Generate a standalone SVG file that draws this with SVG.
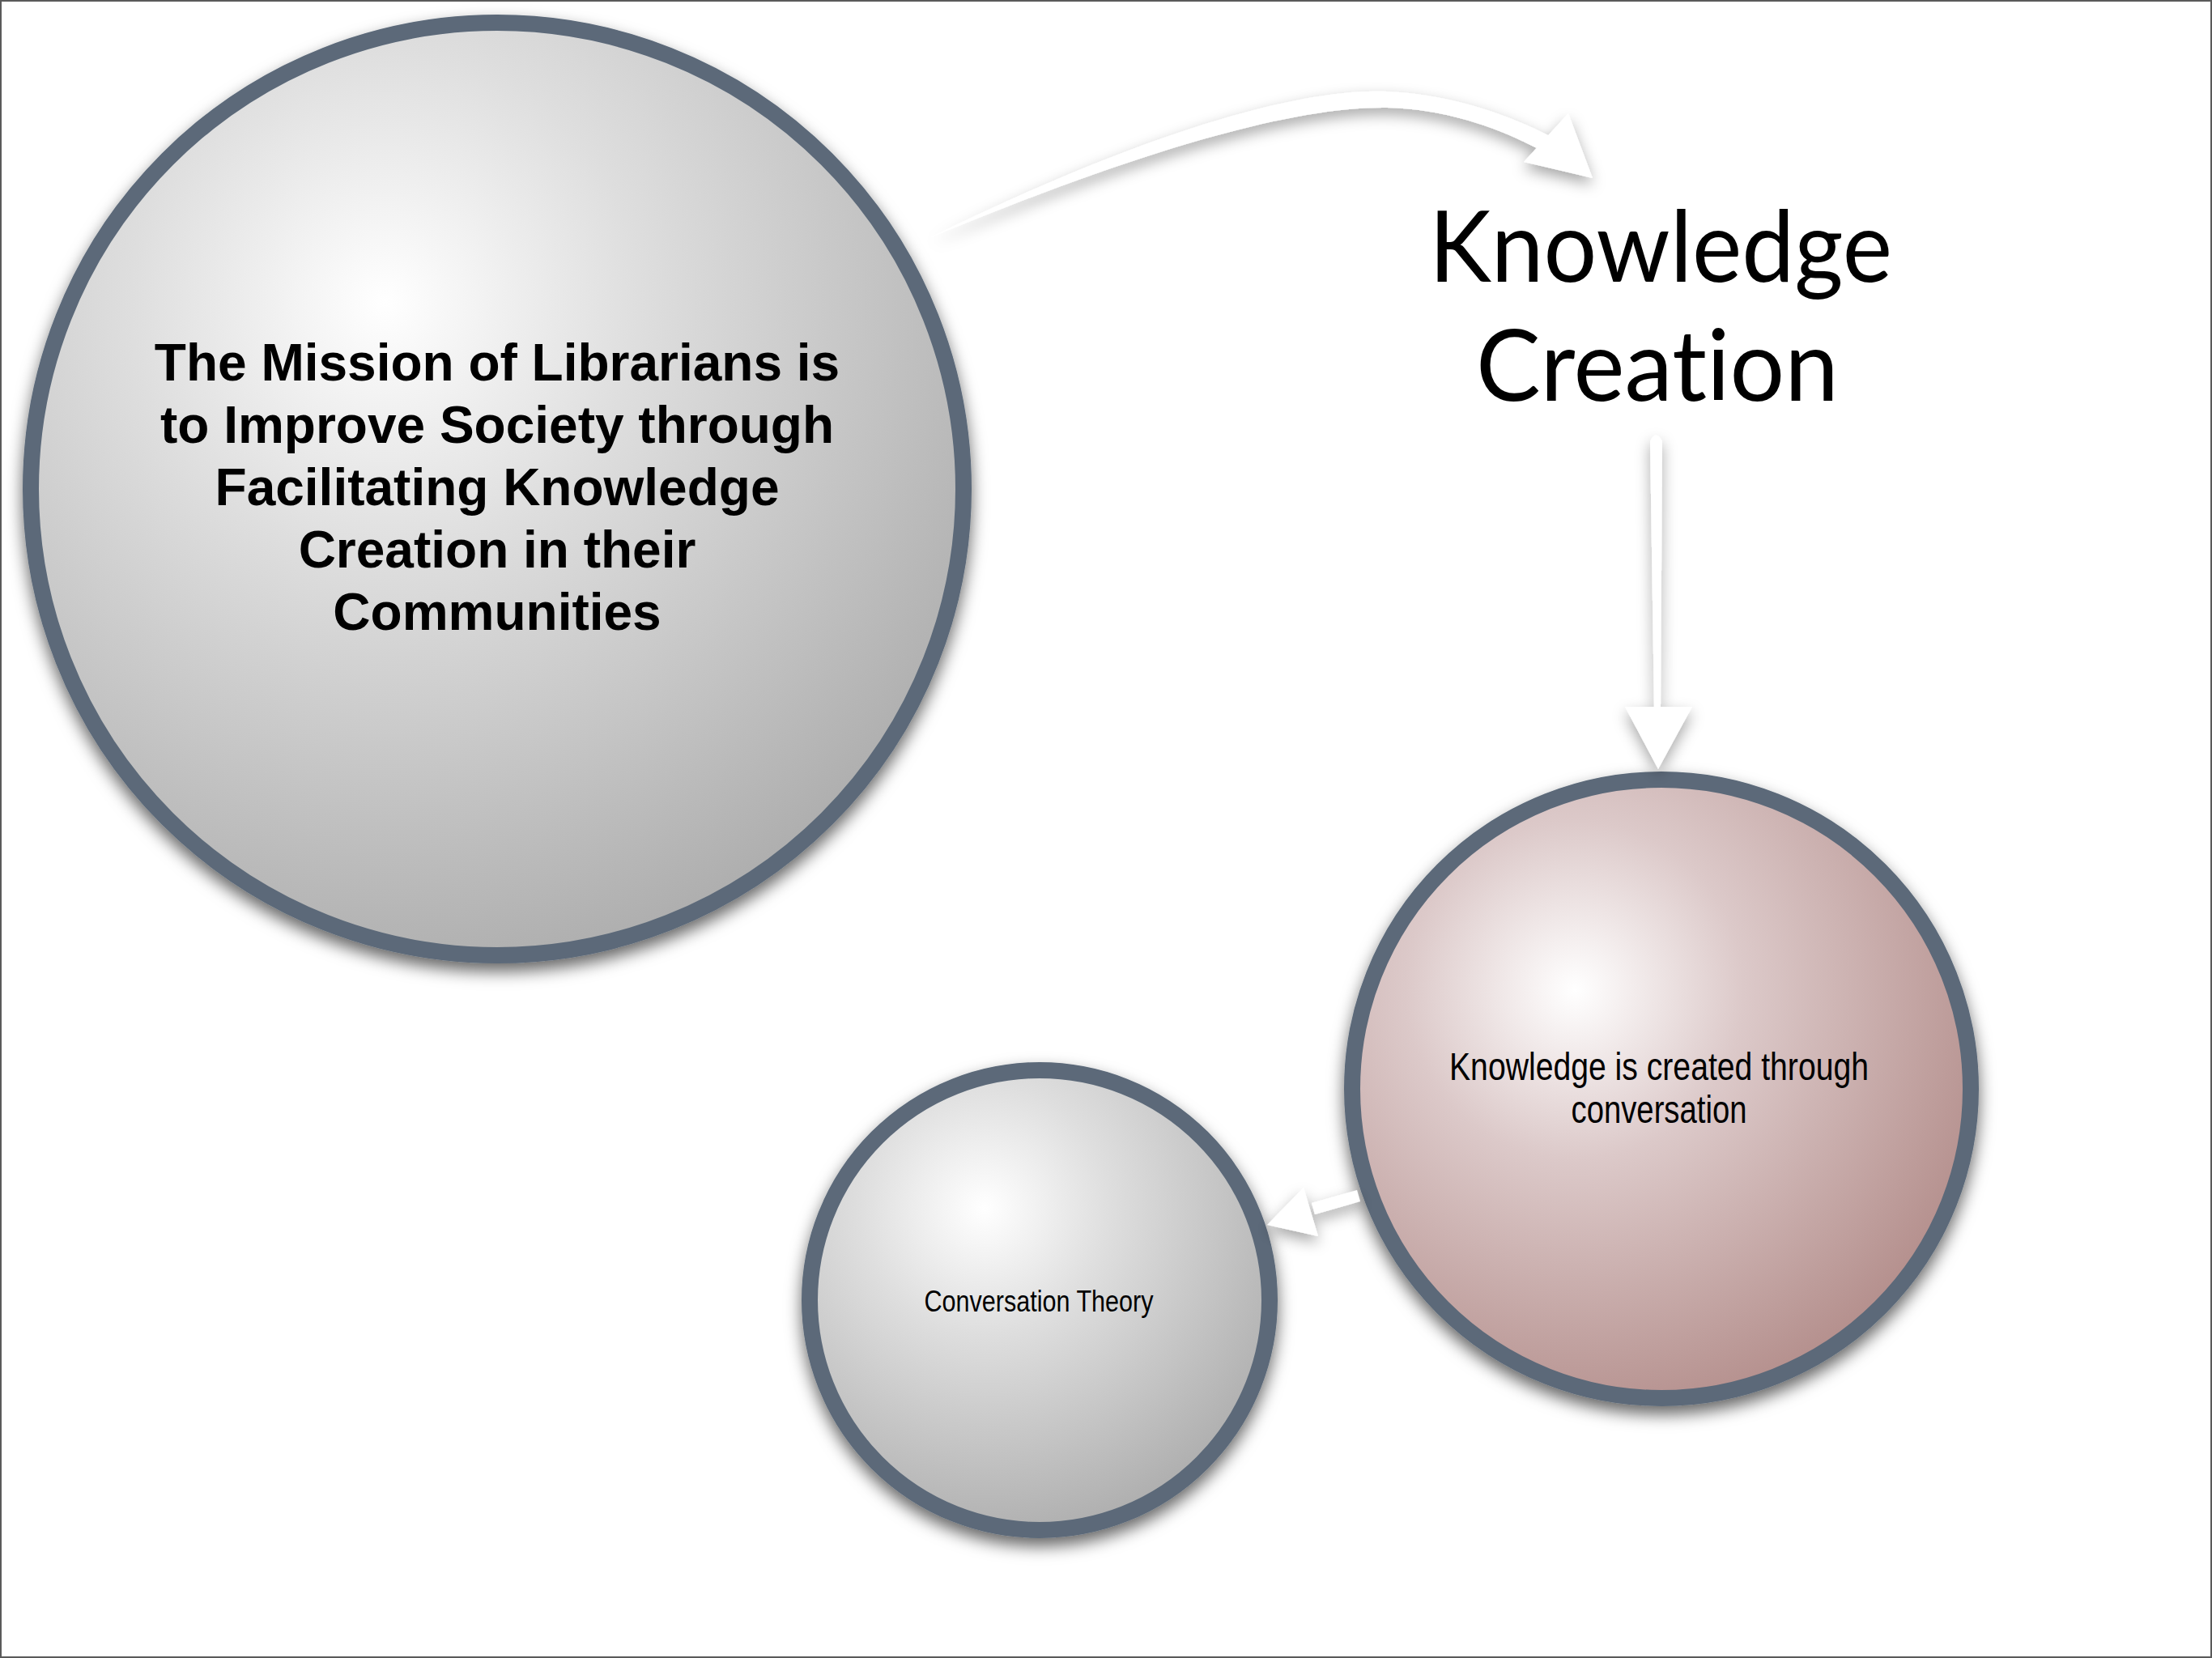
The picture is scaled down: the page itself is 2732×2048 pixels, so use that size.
<svg xmlns="http://www.w3.org/2000/svg" width="2732" height="2048" viewBox="0 0 2732 2048">
<style>
.ring{stroke:#5b6979;stroke-width:20}
.mission{font-family:"Liberation Sans",Arial,sans-serif;font-weight:bold;font-size:64px;fill:#000;text-anchor:middle}
.narrow{font-family:"Liberation Sans Narrow","Liberation Sans",Arial,sans-serif;fill:#000;text-anchor:middle}
.title{font-family:Lato,"Open Sans",sans-serif;font-size:123px;fill:#000;text-anchor:middle;font-variant-ligatures:none;font-feature-settings:"liga" 0}
.arrow{fill:#fff}
</style>
<defs>
<radialGradient id="gGray" cx="0.38" cy="0.30" fx="0.38" fy="0.30" r="0.78">
<stop offset="0" stop-color="#ffffff"/>
<stop offset="0.35" stop-color="#dedede"/>
<stop offset="1" stop-color="#a9a9a9"/>
</radialGradient>
<radialGradient id="gPink" cx="0.36" cy="0.34" fx="0.36" fy="0.34" r="0.78">
<stop offset="0" stop-color="#ffffff"/>
<stop offset="0.35" stop-color="#dcc9c9"/>
<stop offset="1" stop-color="#ae8683"/>
</radialGradient>
<filter id="shadow" x="-20%" y="-20%" width="140%" height="150%">
<feDropShadow dx="0" dy="10" stdDeviation="10" flood-color="#000" flood-opacity="0.6"/>
</filter>
<filter id="ashadow" x="-30%" y="-30%" width="160%" height="180%">
<feDropShadow dx="0" dy="8" stdDeviation="9" flood-color="#000" flood-opacity="0.35"/>
</filter>
</defs>
<rect x="0" y="0" width="2732" height="2048" fill="#fff"/>
<rect x="1" y="1" width="2730" height="2046" fill="none" stroke="#5a5a5a" stroke-width="2"/>

<g id="node-mission">
<circle cx="614" cy="604" r="576" fill="url(#gGray)" class="ring" filter="url(#shadow)"/>
<text class="mission" x="614" y="470">The Mission of Librarians is</text>
<text class="mission" x="614" y="547">to Improve Society through</text>
<text class="mission" x="614" y="624">Facilitating Knowledge</text>
<text class="mission" x="614" y="701">Creation in their</text>
<text class="mission" x="614" y="778">Communities</text>
</g>

<g id="node-knowledge-creation">
<text class="title" x="2051" y="348" textLength="572" lengthAdjust="spacingAndGlyphs">Knowledge</text>
<text class="title" x="2047" y="495" textLength="448" lengthAdjust="spacingAndGlyphs">Creation</text>
</g>

<g id="node-conversation">
<circle cx="2052" cy="1345" r="382" fill="url(#gPink)" class="ring" filter="url(#shadow)"/>
<text class="narrow" x="2049" y="1334" font-size="48" textLength="518" lengthAdjust="spacingAndGlyphs">Knowledge is created through</text>
<text class="narrow" x="2049" y="1387" font-size="48" textLength="217" lengthAdjust="spacingAndGlyphs">conversation</text>
</g>

<g id="node-conversation-theory">
<circle cx="1284" cy="1606" r="284" fill="url(#gGray)" class="ring" filter="url(#shadow)"/>
<text class="narrow" x="1283" y="1620" font-size="37" textLength="283" lengthAdjust="spacingAndGlyphs">Conversation Theory</text>
</g>

<g id="connectors" filter="url(#ashadow)">
<path class="arrow" d="M1150,293 C1400,170 1600,108 1713,113 C1800,117 1870,145 1922,172 L1915,192 C1870,167 1800,135 1713,133 C1600,131 1410,185 1150,293 Z"/>
<polygon class="arrow" points="1882,200 1937,140 1967,220"/>
<path class="arrow" d="M2038,545 Q2045,530 2053,545 L2051,875 L2043,875 Z"/>
<polygon class="arrow" points="2007,873 2090,873 2048,950"/>
<path class="arrow" d="M1676,1470 L1680,1484 L1624,1500 L1620,1486 Z"/>
<polygon class="arrow" points="1610,1467 1628,1527 1565,1513"/>
</g>
</svg>
